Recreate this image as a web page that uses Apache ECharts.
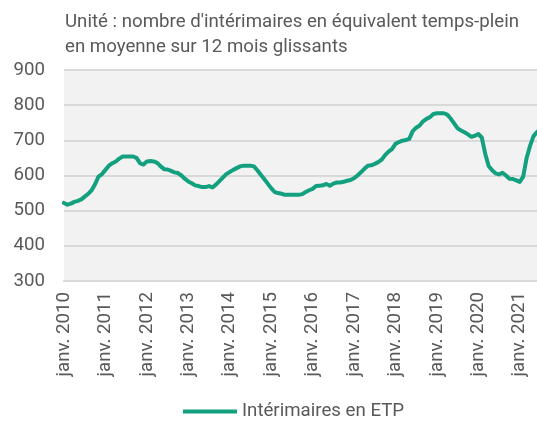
<!DOCTYPE html>
<html>
<head>
<meta charset="utf-8">
<script src="https://cdn.jsdelivr.net/npm/echarts@6/dist/echarts.min.js"></script>
<style>
html,body{margin:0;padding:0;background:#fff;}
#chart{width:537px;height:421px;}
</style>
</head>
<body>
<div id="chart"></div>
<script>
// Titles and labels
const titleLines = ["Unité : nombre d'intérimaires en équivalent temps-plein", "en moyenne sur 12 mois glissants"];
const seriesName = "Intérimaires en ETP";
const monthNames = ["janv.", "févr.", "mars", "avr.", "mai", "juin", "juil.", "août", "sept.", "oct.", "nov.", "déc."];
const startYear = 2010;
const yTicks = [300, 400, 500, 600, 700, 800, 900];

// Monthly values, janv. 2010 -> juin 2021
const interimairesETP = [
  522, 517, 520, 525, 528, 532, 540, 548, 558, 575, 597, 604,
  616, 628, 635, 640, 648, 654, 654, 654, 654, 650, 635, 631,
  640, 641, 640, 636, 626, 618, 617, 613, 609, 607, 600, 591,
  583, 578, 572, 570, 567, 567, 570, 566, 574, 584, 594, 604,
  610, 616, 621, 626, 628, 628, 628, 626, 615, 602, 590, 577,
  564, 553, 550, 548, 545, 545, 545, 545, 545, 547, 553, 558,
  562, 570, 571, 572, 576, 571, 577, 580, 580, 582, 585, 587,
  592, 600, 609, 619, 628, 629, 633, 638, 645, 658, 668, 675,
  690, 695, 699, 701, 704, 726, 736, 742, 754, 761, 766, 775,
  777, 777, 777, 773, 762, 748, 734, 728, 723, 717, 710, 713,
  718, 708, 662, 627, 615, 606, 603, 608, 600, 591, 590, 586,
  582, 597, 650, 685, 712, 724
];

const categories = interimairesETP.map((v, i) =>
  monthNames[i % 12] + " " + (startYear + Math.floor(i / 12)));

const chart = echarts.init(document.getElementById('chart'), null, {renderer: 'canvas'});
const FONT = 'Roboto, "Liberation Sans", sans-serif';
const GREY = '#595959';
const LINE = '#12a07f';
const FS = 18.67;

chart.setOption({
  animation: false,
  backgroundColor: '#ffffff',
  title: {
    text: titleLines.join('\n'),
    left: 60,
    top: 5,
    textStyle: {fontFamily: FONT, fontSize: FS, fontWeight: 'normal', color: GREY, lineHeight: 25}
  },
  legend: {
    data: [seriesName],
    left: 183,
    top: 402,
    icon: 'rect',
    itemWidth: 54,
    itemHeight: 4,
    itemGap: 4,
    padding: 0,
    textStyle: {fontFamily: FONT, fontSize: FS, color: GREY, padding: [0, 0, 0, 0]}
  },
  grid: {
    left: 64, right: 0, top: 70, bottom: 140,
    show: true, backgroundColor: '#f2f2f2', borderWidth: 0
  },
  xAxis: {
    type: 'category',
    data: categories,
    boundaryGap: false,
    axisLine: {show: true, lineStyle: {color: '#d9d9d9', width: 2}},
    axisTick: {show: false},
    splitLine: {show: false},
    axisLabel: {
      interval: (i) => i % 12 === 0,
      rotate: 90,
      margin: 11,
      fontFamily: FONT, fontSize: FS, color: GREY
    }
  },
  yAxis: {
    type: 'value',
    min: yTicks[0],
    max: yTicks[yTicks.length - 1],
    interval: 100,
    axisLine: {show: false},
    axisTick: {show: false},
    splitLine: {lineStyle: {color: '#d9d9d9', width: 2}},
    axisLabel: {fontFamily: FONT, fontSize: FS, color: GREY, margin: 19}
  },
  series: [{
    name: seriesName,
    type: 'line',
    data: interimairesETP,
    showSymbol: false,
    symbol: 'none',
    lineStyle: {color: LINE, width: 4, join: 'round', cap: 'round'},
    itemStyle: {color: LINE}
  }]
});
</script>
</body>
</html>
